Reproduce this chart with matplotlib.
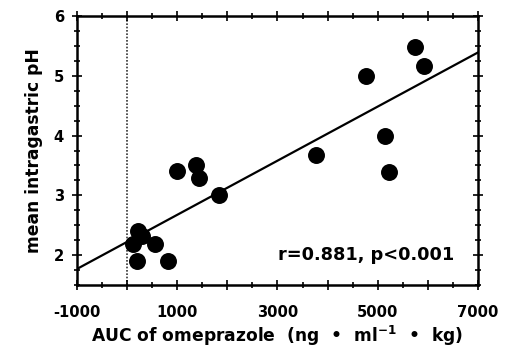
import numpy as np
import matplotlib
matplotlib.use("Agg")
import matplotlib.pyplot as plt
from matplotlib.ticker import MultipleLocator, FuncFormatter

# AUC of omeprazole (ng/ml/kg) vs mean intragastric pH
auc = [5755, 5928, 4771, 5144, 5223, 3761, 1826, 1001, 1367, 1434,
       217, 285, 117, 550, 185, 815]
ph = [5.48, 5.17, 5.0, 3.99, 3.39, 3.67, 3.0, 3.4, 3.5, 3.29,
      2.41, 2.32, 2.18, 2.18, 1.9, 1.9]

# regression line end points
fit_x = [-1000, 7000]
fit_y = [1.77, 5.39]

x_ticks = [-1000, 1000, 3000, 5000, 7000]
y_ticks = [2, 3, 4, 5, 6]
note = "r=0.881, p<0.001"

plt.rcParams["font.family"] = ["DejaVu Sans"]
plt.rcParams["font.weight"] = "bold"
plt.rcParams["mathtext.fontset"] = "custom"
plt.rcParams["mathtext.bf"] = "DejaVu Sans:bold"
plt.rcParams["mathtext.rm"] = "DejaVu Sans:bold"

fig = plt.figure(figsize=(5.11, 3.58), dpi=100)
ax = fig.add_axes([0.151, 0.204, 0.784, 0.751])

ax.plot(fit_x, fit_y, color="k", lw=1.6, zorder=2)
ax.scatter(auc, ph, s=125, color="k", zorder=3)
ax.axvline(0, color="#333333", ls=(0, (1, 1)), lw=1.2, zorder=1)

ax.text(6530, 2.0, note, ha="right", va="center", fontsize=12.8,
        fontweight="bold")

ax.set_xlim(-1000, 7000)
ax.set_ylim(1.5, 6)

ax.xaxis.set_major_locator(MultipleLocator(1000))
ax.xaxis.set_minor_locator(MultipleLocator(500))
ax.xaxis.set_major_formatter(
    FuncFormatter(lambda v, p: f"{int(v)}" if int(round(v)) in x_ticks else ""))
ax.set_yticks(y_ticks)
ax.yaxis.set_minor_locator(MultipleLocator(0.25))

ax.tick_params(which="both", direction="inout", top=True, right=True,
               width=1.2, labelsize=10.6)
ax.tick_params(which="major", length=7)
ax.tick_params(axis="x", which="major", pad=11)
ax.tick_params(axis="y", which="major", pad=6)
ax.tick_params(which="minor", length=4)
for lab in ax.get_xticklabels() + ax.get_yticklabels():
    lab.set_fontweight("bold")

for s in ax.spines.values():
    s.set_linewidth(1.8)

ax.set_xlabel(r"AUC of omeprazole  (ng  •  ml$^{\mathbf{-1}}$  •  kg)",
              fontsize=12.3, fontweight="bold", labelpad=3)
ax.set_ylabel("mean intragastric pH", fontsize=12.3, fontweight="bold", labelpad=8)

fig.savefig("out.png", dpi=100)
